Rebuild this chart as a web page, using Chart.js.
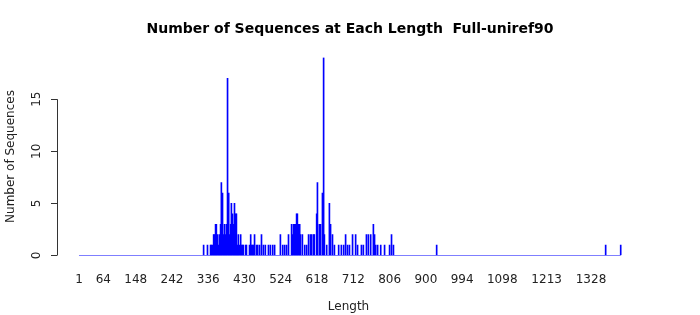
<!DOCTYPE html>
<html><head><meta charset="utf-8">
<script src="https://cdn.jsdelivr.net/npm/chart.js@4.4.0/dist/chart.umd.min.js"></script>
<style>html,body{margin:0;padding:0;background:#fff}</style>
</head><body>
<canvas id="c" width="700" height="315"></canvas>
<script>
// ---- data ----
const lengths = [324,334,342,344,347,350,352,355,357,360,363,365,368,370,373,376,378,381,383,386,389,391,394,396,399,402,404,407,409,412,414,417,420,422,425,427,433,435,443,446,448,451,453,456,461,464,469,474,479,484,492,497,503,508,523,529,534,539,544,552,554,557,560,562,565,567,570,573,575,580,586,591,596,601,604,609,611,617,619,624,627,632,635,637,643,650,653,658,663,674,681,687,692,697,702,710,718,723,733,738,746,751,757,764,767,770,775,783,793,806,811,816,928,1366,1405];
const counts  = [1,1,1,1,1,2,2,3,3,2,1,2,3,7,6,2,3,2,3,17,6,2,3,5,4,3,5,4,4,1,2,1,2,1,1,1,1,1,1,2,1,1,1,2,1,1,1,2,1,1,1,1,1,1,2,1,1,1,2,3,2,3,3,3,4,4,3,3,2,2,1,1,2,2,2,2,2,4,7,3,3,6,19,2,1,5,3,2,1,1,1,1,2,1,1,2,2,1,1,1,2,2,2,3,2,1,1,1,1,1,2,1,1,1,1];
const xTicks = [1,64,148,242,336,430,524,618,712,806,900,994,1098,1213,1328];
const yTicks = [0,5,10,15];
const lengthRange = [1, 1405];

const FONT = 'DejaVu Sans';

const spinePlugin = {
  id: 'spine',
  afterDraw(chart) {
    const ys = chart.scales.y, ctx = chart.ctx;
    const x = Math.round(chart.chartArea.left) + 0.5;
    ctx.save();
    ctx.strokeStyle = '#333';
    ctx.lineWidth = 1;
    ctx.beginPath();
    ctx.moveTo(x, ys.getPixelForValue(yTicks[0]));
    ctx.lineTo(x, ys.getPixelForValue(yTicks[yTicks.length - 1]));
    ctx.stroke();
    ctx.restore();
  }
};

new Chart(document.getElementById('c'), {
  type: 'bar',
  data: {
    datasets: [
      {
        type: 'bar',
        data: lengths.map((l, i) => ({x: l, y: counts[i]})),
        backgroundColor: '#0000ff',
        barThickness: 1,
        grouped: false,
        order: 1
      },
      {
        type: 'line',
        data: lengthRange.map(l => ({x: l, y: 0})),
        borderColor: '#0000ff',
        borderWidth: 1,
        pointRadius: 0,
        order: 0
      }
    ]
  },
  options: {
    responsive: false,
    devicePixelRatio: 1,
    animation: false,
    layout: {padding: {left: 0, right: 0, top: 0, bottom: 0}},
    plugins: {
      legend: {display: false},
      tooltip: {enabled: false},
      title: {
        display: true,
        text: 'Number of Sequences at Each Length  Full-uniref90',
        font: {family: FONT, size: 14, weight: 'bold'},
        color: '#000',
        padding: {top: 20.5, bottom: 20.2}
      }
    },
    scales: {
      x: {
        type: 'linear',
        min: -56, max: 1455,
        offset: false,
        afterBuildTicks: s => { s.ticks = xTicks.map(v => ({value: v})); },
        afterFit: s => { s.height = 59.5; },
        border: {display: false},
        grid: {display: false, drawTicks: false},
        ticks: {autoSkip: false, minRotation: 0, maxRotation: 0, padding: 17,
                font: {family: FONT, size: 12}, color: '#222',
                callback: v => String(v)},
        title: {display: true, text: 'Length', font: {family: FONT, size: 12}, color: '#222',
                padding: {top: 0, bottom: 1}}
      },
      y: {
        min: 0, max: 19,
        afterBuildTicks: s => { s.ticks = yTicks.map(v => ({value: v})); },
        afterFit: s => { s.width = 57; },
        border: {display: false},
        grid: {drawOnChartArea: false, drawTicks: true, tickLength: 6, color: '#333', lineWidth: 1},
        ticks: {minRotation: 90, maxRotation: 90, crossAlign: 'center', padding: 6,
                font: {family: FONT, size: 12}, color: '#222',
                callback: v => String(v)},
        title: {display: true, text: 'Number of Sequences', font: {family: FONT, size: 12}, color: '#222',
                padding: {top: 4, bottom: 0}}
      },
      yRight: {
        position: 'right',
        min: 0, max: 19,
        afterFit: s => { s.width = 60; },
        border: {display: false},
        grid: {display: false, drawTicks: false},
        ticks: {display: false}
      }
    }
  },
  plugins: [spinePlugin]
});
</script>
</body></html>
